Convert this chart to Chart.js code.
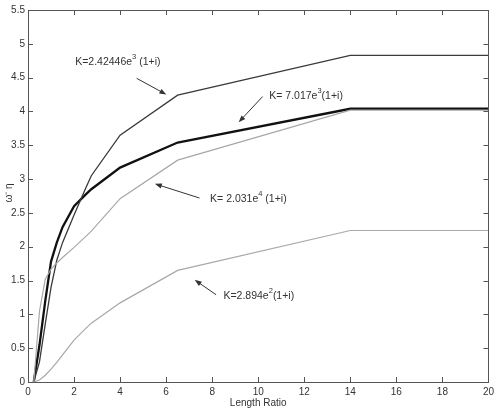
<!DOCTYPE html>
<html>
<head>
<meta charset="utf-8">
<script src="https://cdn.jsdelivr.net/npm/chart.js@4"></script>
<style>
html,body{margin:0;padding:0;background:#fff;}
#wrap{width:498px;height:410px;}
</style>
</head>
<body>
<div id="wrap"><canvas id="c" width="498" height="410"></canvas></div>
<script>
// Length ratio samples
const lengthRatio = [0.25, 0.5, 0.75, 1, 1.25, 1.5, 2, 2.5, 2.75, 4, 6.5, 14, 20];
// Series values
const seriesK2424 = [0, 0.30, 0.86, 1.40, 1.80, 2.06, 2.47, 2.86, 3.05, 3.65, 4.24, 4.83, 4.83];
const seriesK7017 = [0, 0.55, 1.20, 1.78, 2.06, 2.29, 2.60, 2.77, 2.85, 3.17, 3.54, 4.04, 4.04];
const seriesK2031 = [0, 1.05, 1.52, 1.67, 1.76, 1.84, 1.99, 2.15, 2.23, 2.71, 3.28, 4.02, 4.02];
const seriesK2894 = [0, 0.03, 0.10, 0.19, 0.29, 0.40, 0.62, 0.79, 0.87, 1.17, 1.65, 2.24, 2.24];
const xTicks = [0, 2, 4, 6, 8, 10, 12, 14, 16, 18, 20];
const yTicks = [0, 0.5, 1, 1.5, 2, 2.5, 3, 3.5, 4, 4.5, 5, 5.5];
// Annotation labels: [base, superscript, rest]
const labelParts = [
  ["K=2.42446e", "3", " (1+i)"],
  ["K= 7.017e", "3", "(1+i)"],
  ["K= 2.031e", "4", " (1+i)"],
  ["K=2.894e", "2", "(1+i)"]
];
// label anchor (left, middle) in data units
const labelX = [2.05, 10.48, 7.91, 8.49];
const labelY = [4.73, 4.23, 2.70, 1.27];
// arrows: tail -> head in data units
const arrowFromX = [4.72, 10.19, 7.45, 8.17];
const arrowFromY = [4.49, 4.22, 2.72, 1.29];
const arrowToX = [6.01, 9.15, 5.51, 7.24];
const arrowToY = [4.25, 3.84, 2.93, 1.51];

function pts(ys){ return lengthRatio.map((x,i)=>({x:x, y:ys[i]})); }

const FONT = '"Liberation Sans", Arial, Helvetica, sans-serif';

const framePlugin = {
  id: 'frame',
  afterDraw(chart){
    const ctx = chart.ctx, a = chart.chartArea;
    const xs = chart.scales.x, ys = chart.scales.y;
    ctx.save();
    ctx.strokeStyle = '#555';
    ctx.lineWidth = 1;
    ctx.strokeRect(Math.round(a.left)+0.5, Math.round(a.top)+0.5, Math.round(a.right-a.left), Math.round(a.bottom-a.top));
    ctx.beginPath();
    const tl = 5;
    xTicks.forEach(v=>{
      const p = Math.round(xs.getPixelForValue(v))+0.5;
      ctx.moveTo(p, a.bottom); ctx.lineTo(p, a.bottom-tl);
      ctx.moveTo(p, a.top); ctx.lineTo(p, a.top+tl);
    });
    yTicks.forEach(v=>{
      const p = Math.round(ys.getPixelForValue(v))+0.5;
      ctx.moveTo(a.left, p); ctx.lineTo(a.left+tl, p);
      ctx.moveTo(a.right, p); ctx.lineTo(a.right-tl, p);
    });
    ctx.stroke();

    // axis titles
    ctx.fillStyle = '#333';
    ctx.font = '10px ' + FONT;
    ctx.textAlign = 'center';
    ctx.textBaseline = 'middle';
    ctx.fillText('Length Ratio', (a.left+a.right)/2 + 0, 403);
    ctx.save();
    ctx.translate(9, 193);
    ctx.rotate(-Math.PI/2);
    ctx.fillText('\u03c9\u207b \u03b7', 0, 0);
    ctx.restore();

    // annotations
    ctx.textAlign = 'left';
    ctx.textBaseline = 'middle';
    labelParts.forEach((parts,i)=>{
      let x = xs.getPixelForValue(labelX[i]);
      const y = ys.getPixelForValue(labelY[i]);
      ctx.font = '10.5px ' + FONT;
      ctx.fillText(parts[0], x, y);
      x += ctx.measureText(parts[0]).width;
      ctx.font = '7.5px ' + FONT;
      ctx.fillText(parts[1], x, y-5);
      x += ctx.measureText(parts[1]).width;
      ctx.font = '10.5px ' + FONT;
      ctx.fillText(parts[2], x, y);
    });
    ctx.strokeStyle = '#333';
    ctx.fillStyle = '#333';
    ctx.lineWidth = 1;
    arrowFromX.forEach((fx,i)=>{
      const x1 = xs.getPixelForValue(fx), y1 = ys.getPixelForValue(arrowFromY[i]);
      const x2 = xs.getPixelForValue(arrowToX[i]), y2 = ys.getPixelForValue(arrowToY[i]);
      const ang = Math.atan2(y2-y1, x2-x1);
      const hl = 7, hw = 2.6;
      ctx.beginPath();
      ctx.moveTo(x1,y1);
      ctx.lineTo(x2 - Math.cos(ang)*hl*0.8, y2 - Math.sin(ang)*hl*0.8);
      ctx.stroke();
      ctx.beginPath();
      ctx.moveTo(x2,y2);
      ctx.lineTo(x2 - Math.cos(ang)*hl - Math.sin(ang)*hw, y2 - Math.sin(ang)*hl + Math.cos(ang)*hw);
      ctx.lineTo(x2 - Math.cos(ang)*hl + Math.sin(ang)*hw, y2 - Math.sin(ang)*hl - Math.cos(ang)*hw);
      ctx.closePath();
      ctx.fill();
    });
    ctx.restore();
  }
};

new Chart(document.getElementById('c'), {
  type: 'line',
  data: {
    datasets: [
      {label:'K=2.894e2', data: pts(seriesK2894), borderColor:'#a8a8a8', borderWidth:1.2},
      {label:'K=2.031e4', data: pts(seriesK2031), borderColor:'#a8a8a8', borderWidth:1.2},
      {label:'K=2.42446e3', data: pts(seriesK2424), borderColor:'#3a3a3a', borderWidth:1.3},
      {label:'K=7.017e3', data: pts(seriesK7017), borderColor:'#111', borderWidth:2.3}
    ]
  },
  options: {
    responsive: false,
    animation: false,
    events: [],
    parsing: true,
    elements: { point: { radius: 0 }, line: { tension: 0, fill: false } },
    layout: { padding: { top: 10, right: 7, left: 0, bottom: 0 } },
    plugins: { legend: { display: false }, tooltip: { enabled: false } },
    scales: {
      x: {
        type: 'linear', min: 0, max: 20,
        afterFit(s){ s.height = 28; },
        afterBuildTicks(s){ s.ticks = xTicks.map(v=>({value:v})); },
        grid: { display: false, drawTicks: false },
        border: { display: false },
        ticks: { color:'#333', font:{ size:10, family: FONT }, padding: 4, maxRotation: 0, autoSkip: false,
                 callback: v => String(v) }
      },
      y: {
        type: 'linear', min: 0, max: 5.5,
        afterFit(s){ s.width = 28; },
        afterBuildTicks(s){ s.ticks = yTicks.map(v=>({value:v})); },
        grid: { display: false, drawTicks: false },
        border: { display: false },
        ticks: { color:'#333', font:{ size:10, family: FONT }, padding: 3, autoSkip: false,
                 callback: v => String(v) }
      }
    }
  },
  plugins: [framePlugin]
});
</script>
</body>
</html>
